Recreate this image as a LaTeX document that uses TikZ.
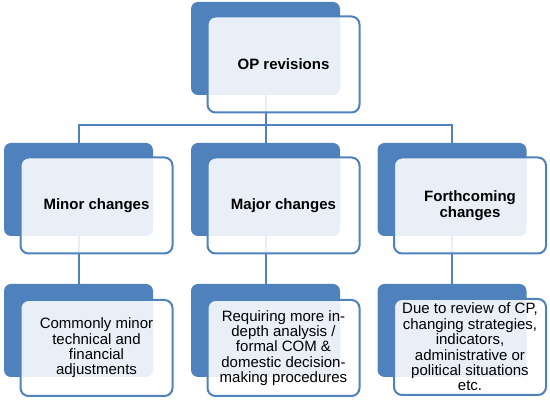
\documentclass[tikz,border=0pt]{standalone}
\usepackage{fontspec}
\setmainfont{Liberation Sans}
\usetikzlibrary{positioning}
\definecolor{boxblue}{HTML}{4F81BD}
\tikzset{
  every picture/.style={line join=round, line cap=round},
  backbox/.style={fill=boxblue, rounded corners=7pt, minimum width=149pt, minimum height=93pt, inner sep=0pt},
  frontbox/.style={draw=boxblue, line width=2pt, fill=white, fill opacity=0.88, text opacity=1,
    rounded corners=8pt, minimum width=152pt, minimum height=96pt, inner sep=0pt, align=center,
    font=\fontsize{15}{15.4}\selectfont},
  headbox/.style={frontbox, font=\fontsize{15}{15.4}\selectfont\bfseries},
  conn/.style={draw=boxblue, line width=2pt, line join=miter, line cap=butt},
}

\begin{document}
\begin{tikzpicture}[x=1pt,y=-1pt]
\useasboundingbox (0,0) rectangle (550,403);
% back boxes
\node[backbox] (opBack) at (265.5,48.5) {};
\node[backbox] (minorBack) at (78.5,189.5) {};
\node[backbox] (majorBack) at (265.5,189.5) {};
\node[backbox] (forthBack) at (452,189.5) {};
\node[backbox] (minorDetBack) at (78.5,330.5) {};
\node[backbox] (majorDetBack) at (265.5,330.5) {};
\node[backbox] (forthDetBack) at (452,330.5) {};
% connectors
\coordinate (bus) at (265.5,125);
\draw[conn] (opBack.south) -- (opBack.south |- bus);
\draw[conn] (minorBack.north) |- (bus);
\draw[conn] (forthBack.north) |- (bus);
\draw[conn] (majorBack.north) -- (majorBack.north |- bus);
\draw[conn] (minorBack.south) -- (minorDetBack.north);
\draw[conn] (majorBack.south) -- (majorDetBack.north);
\draw[conn] (forthBack.south) -- (forthDetBack.north);
% front boxes
\node[headbox] (op) at ([shift={(18,16)}]opBack.center) {OP revisions};
\node[headbox] (minor) at ([shift={(18,16)}]minorBack.center) {Minor changes};
\node[headbox] (major) at ([shift={(18,16)}]majorBack.center) {Major changes};
\node[headbox] (forth) at ([shift={(18,16)}]forthBack.center) {Forthcoming\\changes};
\node[frontbox] (minorDet) at ([shift={(18,17.5)}]minorDetBack.center) {Commonly minor\\technical and\\financial\\adjustments};
\node[frontbox] (majorDet) at ([shift={(18,17.5)}]majorDetBack.center) {Requiring more in-\\depth analysis /\\formal COM \&\\domestic decision-\\making procedures};
\node[frontbox] (forthDet) at ([shift={(18,16.5)}]forthDetBack.center) {Due to review of CP,\\changing strategies,\\indicators,\\administrative or\\political situations\\etc.};
\end{tikzpicture}
\end{document}
